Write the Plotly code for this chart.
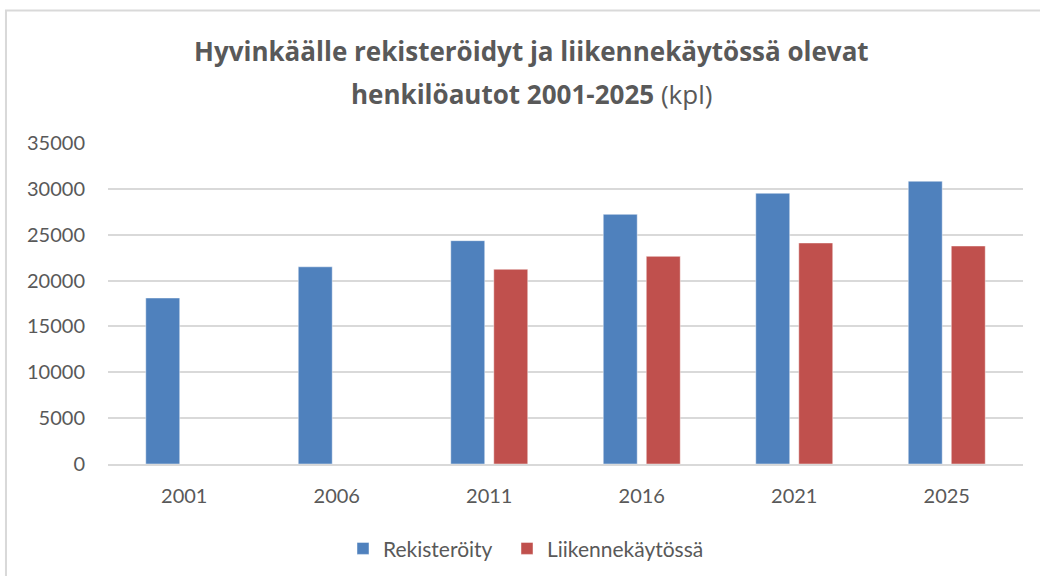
import plotly.graph_objects as go

years = ["2001", "2006", "2011", "2016", "2021", "2025"]
rekisteroity = [18100, 21500, 24350, 27220, 29520, 30830]
liikennekaytossa = [None, None, 21230, 22640, 24100, 23770]
y_ticks = [0, 5000, 10000, 15000, 20000, 25000, 30000, 35000]

FONT = "Lato"
TITLE_FONT = "Open Sans"
GREY = "#595959"

fig = go.Figure()
fig.add_trace(go.Bar(
    x=years, y=rekisteroity, name="Rekisteröity", legend="legend",
    marker=dict(color="#4F81BD", line=dict(color="rgba(255,255,255,0.45)", width=1)),
))
fig.add_trace(go.Bar(
    x=years, y=liikennekaytossa, name="Liikennekäytössä", legend="legend2",
    marker=dict(color="#C0504D", line=dict(color="rgba(255,255,255,0.45)", width=1)),
))

leg_common = dict(orientation="h", xanchor="left", y=-0.264, yanchor="middle",
                  font=dict(family=FONT, size=21, color=GREY), itemwidth=30,
                  bgcolor="rgba(0,0,0,0)")

fig.update_layout(
    width=1040, height=576,
    margin=dict(l=108, r=17, t=143, b=112, autoexpand=False),
    paper_bgcolor="white", plot_bgcolor="white",
    barmode="group", bargap=0.436, bargroupgap=0.21,
    font=dict(family=FONT, color=GREY, size=20),
    showlegend=True,
    legend=dict(x=(343 - 108) / 915, **leg_common),
    legend2=dict(x=(507 - 108) / 915, **leg_common),
    xaxis=dict(type="category", showgrid=False, showline=True, linecolor="#d9d9d9",
               linewidth=1.5, ticks="", ticklabelstandoff=13, automargin=False,
               tickfont=dict(family=FONT, size=20, color=GREY)),
    yaxis=dict(range=[0, 35000], tickvals=y_ticks, ticktext=[str(v) for v in y_ticks],
               showgrid=True, gridcolor="#d9d9d9", gridwidth=1.5, automargin=False,
               zeroline=False, showline=False, ticks="", ticklabelstandoff=22,
               tickfont=dict(family=FONT, size=20, color=GREY)),
    shapes=[dict(type="rect", xref="paper", yref="paper",
                 x0=-0.1115, x1=1.05, y0=-0.6, y1=1.4128,
                 line=dict(color="#d9d9d9", width=2), layer="below")],
    annotations=[
        dict(text="<b>Hyvinkäälle rekisteröidyt ja liikennekäytössä olevat</b>",
             xref="paper", yref="paper", x=(531 - 108) / 915, y=(464 - 51) / 321,
             xanchor="center", yanchor="middle", showarrow=False,
             font=dict(family=TITLE_FONT, size=26, color=GREY)),
        dict(text="<b>henkilöautot 2001-2025</b> (kpl)",
             xref="paper", yref="paper", x=(531 - 108) / 915, y=(464 - 94) / 321,
             xanchor="center", yanchor="middle", showarrow=False,
             font=dict(family=TITLE_FONT, size=26, color=GREY)),
    ],
)

fig.write_html("out.html", config={"displayModeBar": False},
               post_script="document.body.style.margin='0';")
